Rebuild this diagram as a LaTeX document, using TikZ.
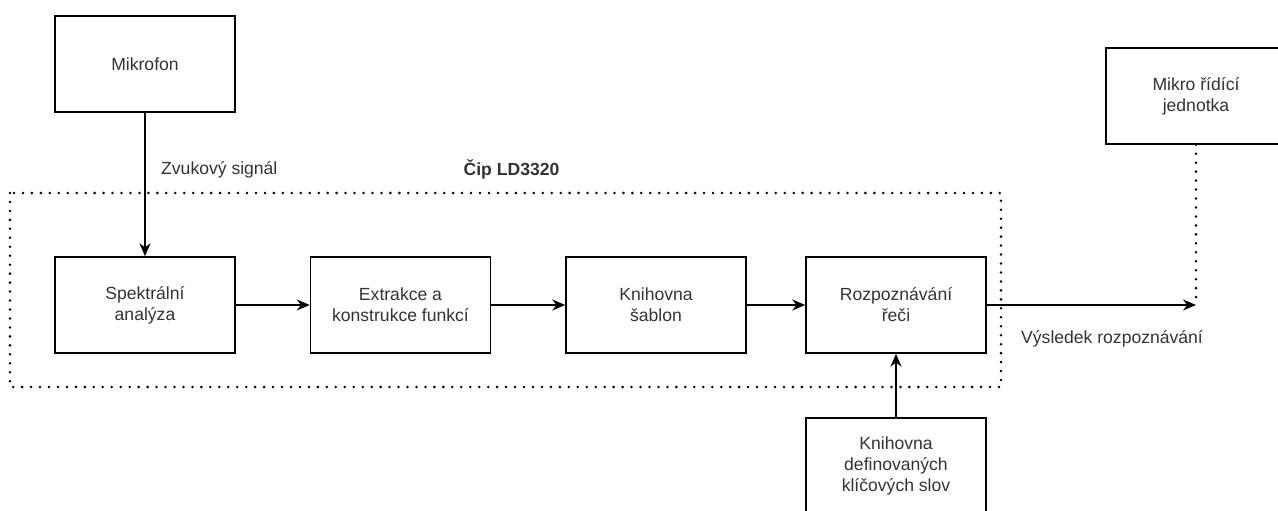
\documentclass[tikz,border=0pt]{standalone}
\usepackage{fontspec}
\setmainfont{Liberation Sans}
\usepackage{xcolor}
\usetikzlibrary{positioning, arrows.meta}
\definecolor{txt}{HTML}{333333}

\begin{document}
\begin{tikzpicture}[font=\fontsize{10}{12}\selectfont,
  blok/.style={rectangle, draw=black, line width=0.85pt, minimum width=3.6cm, minimum height=1.92cm, align=center, text=txt, inner sep=2pt},
  sipka/.style={-{Stealth[length=2.6mm, width=2.2mm]}, line width=0.85pt},
  tecky/.style={line width=1.6pt, line cap=round, dash pattern=on 0pt off 5.1pt}
]
  \useasboundingbox (0,0) rectangle (25.56,10.22);

  % cip LD3320
  \draw[tecky] (0.2,6.36) rectangle (20.02,2.48);
  \node[font=\fontsize{10}{12}\selectfont\bfseries, text=txt] (cip) at (10.23,6.84) {Čip LD3320};

  \node[blok] (mikrofon) at (2.9,8.94) {Mikrofon};
  \node[blok] (spektr) at (2.9,4.12) {Spektrální\\analýza};
  \node[blok] (extrakce) at (8.01,4.12) {Extrakce a\\konstrukce funkcí};
  \node[blok] (sablony) at (13.12,4.12) {Knihovna\\šablon};
  \node[blok] (rozpozn) at (17.92,4.12) {Rozpoznávání\\řeči};
  \node[blok] (slova) at (17.92,0.9) {Knihovna\\definovaných\\klíčových slov};
  \node[blok] (mcu) at (23.92,8.3) {Mikro řídící\\jednotka};
  \coordinate (vystup) at (23.92,4.12);

  \draw[sipka] (mikrofon) -- (spektr);
  \node[anchor=west, text=txt] (zvuk) at (3.1,6.82) {Zvukový signál};
  \draw[sipka] (spektr) -- (extrakce);
  \draw[sipka] (extrakce) -- (sablony);
  \draw[sipka] (sablony) -- (rozpozn);
  \draw[sipka] (slova) -- (rozpozn);
  \draw[sipka] (rozpozn) -- (vystup);
  \node[anchor=west, text=txt] (vysledek) at (20.3,3.44) {Výsledek rozpoznávání};
  \draw[tecky] (mcu) -- (vystup);
\end{tikzpicture}
\end{document}
